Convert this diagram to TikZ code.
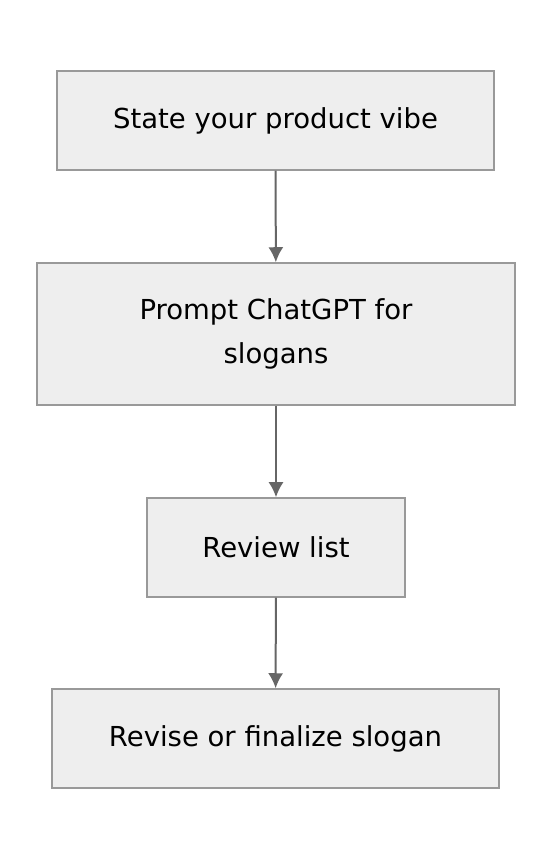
\documentclass[tikz,border=0pt]{standalone}
\usepackage{fontspec}
\setmainfont{DejaVu Sans}
\usepackage{tikz}
\usetikzlibrary{arrows.meta}
\definecolor{boxfill}{HTML}{EEEEEE}
\definecolor{boxline}{HTML}{999999}
\definecolor{arrowgray}{HTML}{666666}
\begin{document}
\begin{tikzpicture}[x=1pt,y=1pt]
\tikzstyle{stepbox}=[rectangle, draw=boxline, fill=boxfill, line width=1.5pt, align=center, font=\fontsize{27.5}{44}\selectfont]
\tikzstyle{flow}=[draw=arrowgray, line width=2pt, -{Latex[length=15pt,width=15pt]}]
\useasboundingbox (0,0) rectangle (552,860);

    \node[stepbox, minimum width = 437pt,
    minimum height = 99pt] (state) at (275.5,739.5) {State your product vibe};

    \node[stepbox, minimum width = 478pt,
    minimum height = 142pt] (prompt) at (276,526) {Prompt ChatGPT for\\slogans};

    \node[stepbox, minimum width = 258pt,
    minimum height = 99pt] (review) at (276,312.5) {Review list};

    \node[stepbox, minimum width = 447pt,
    minimum height = 99pt] (revise) at (275.5,121.5) {Revise or finalize slogan};

\draw[flow] (state)--(prompt);
\draw[flow] (prompt)--(review);
\draw[flow] (review)--(revise);
\end{tikzpicture}
\end{document}
